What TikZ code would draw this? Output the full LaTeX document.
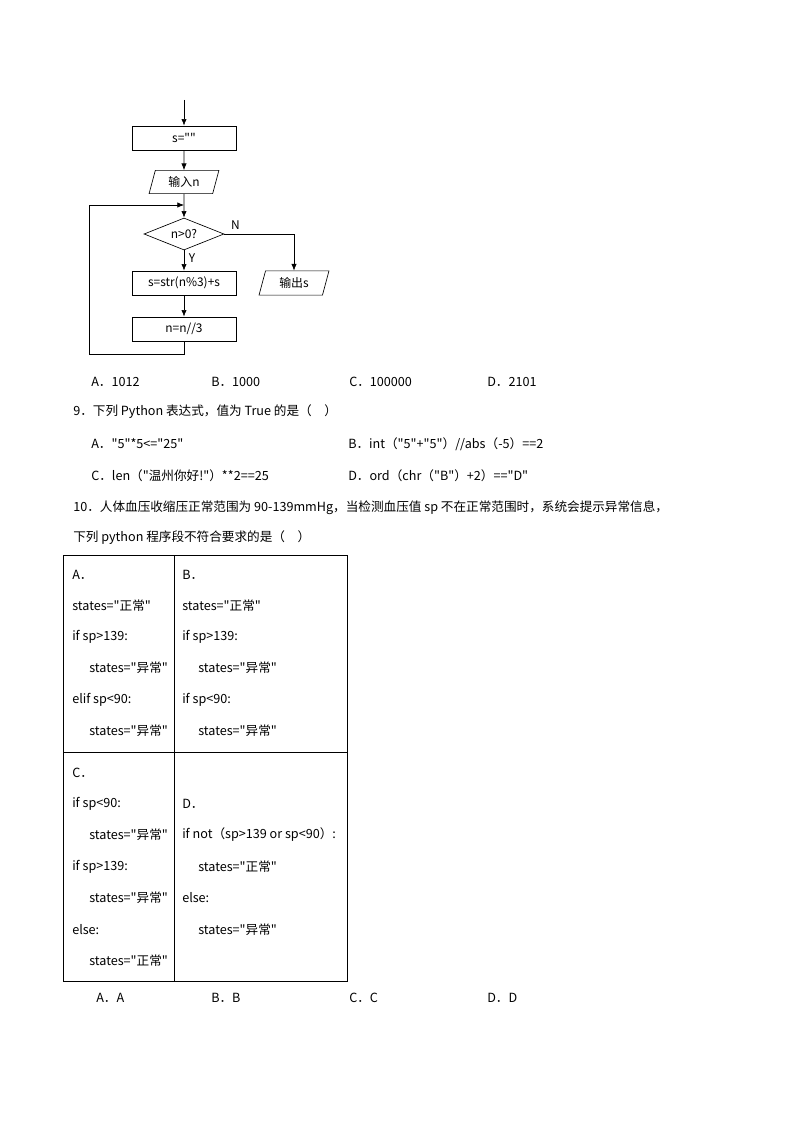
\documentclass[tikz,border=0pt]{standalone}
\usepackage{fontspec}
\setmainfont{Liberation Serif}
\newfontfamily\cjk{Noto Sans CJK SC}
\newfontfamily\chart{Noto Sans CJK SC}
\usetikzlibrary{shapes.geometric,arrows.meta}
\tikzset{
  proc/.style={draw, line width=0.5pt, minimum width=104\unitpx, minimum height=24\unitpx, font=\chart\fontsize{9}{10}\selectfont},
  io/.style={draw, trapezium, trapezium left angle=75, trapezium right angle=105, line width=0.5pt, minimum width=70\unitpx, minimum height=22\unitpx, inner sep=1pt, font=\chart\fontsize{9}{10}\selectfont},
  decide/.style={draw, diamond, aspect=2.5, line width=0.5pt, minimum width=80\unitpx, minimum height=32\unitpx, inner sep=0pt, font=\chart\fontsize{9}{10}\selectfont},
  flow/.style={-{Latex[length=5pt,width=4pt]}, line width=0.5pt},
  txt/.style={anchor=west, inner sep=0pt, font=\cjk\fontsize{9.5}{11}\selectfont},
}
\newcommand{\unitpx}{*0.02646cm}
\begin{document}
\begin{tikzpicture}[x=0.02646cm, y=-0.02646cm]
\useasboundingbox (0,0) rectangle (794,1123);
% flowchart
\coordinate (start) at (184,100);
\node[proc] (init) at (184,138) {s=""};
\node[io] (input) at (184,182) {输入n};
\coordinate (join) at (184,205);
\node[decide] (cond) at (184,234) {n>0?};
\node[proc] (body) at (184,283) {s=str(n\%3)+s};
\node[proc] (step) at (184,329) {n=n//3};
\node[io] (output) at (294,283) {输出s};
\draw[flow] (start) -- (init);
\draw[flow] (init) -- (input);
\draw[flow] (input) -- (cond);
\draw[flow] (cond) -- node[right, font=\chart\fontsize{9}{10}\selectfont, pos=0.4] {Y} (body);
\draw[flow] (body) -- (step);
\draw[flow] (cond.east) -| node[pos=0.08, above, font=\chart\fontsize{9}{10}\selectfont] {N} (output);
\draw[flow] (step.south) -- (184,354) -- (89,354) -- (89,205) -- (join);
% answers 8
\node[txt] (a8) at (91,382) {A．1012};
\node[txt] (b8) at (211,382) {B．1000};
\node[txt] (c8) at (349,382) {C．100000};
\node[txt] (d8) at (487,382) {D．2101};
% question 9
\node[txt] (q9) at (73,412) {9．下列 Python 表达式，值为 True 的是（\quad）};
\node[txt] (a9) at (91,444) {A．"5"*5<="25"};
\node[txt] (b9) at (348,444) {B．int（"5"+"5"）//abs（-5）==2};
\node[txt] (c9) at (91,476) {C．len（"温州你好!"）**2==25};
\node[txt] (d9) at (348,476) {D．ord（chr（"B"）+2）=="D"};
% question 10
\node[txt] (q10) at (73,508) {10．人体血压收缩压正常范围为 90-139mmHg，当检测血压值 sp 不在正常范围时，系统会提示异常信息，};
\node[txt] (q10b) at (73,538) {下列 python 程序段不符合要求的是（\quad）};
% table
\draw[line width=0.5pt] (63,555) rectangle (347,981);
\draw[line width=0.5pt] (174,555) -- (174,981);
\draw[line width=0.5pt] (63,752) -- (347,752);
\node[txt] at (72,575) {A．};
\node[txt] at (72,606) {states="正常"};
\node[txt] at (72,637) {if sp>139:};
\node[txt] at (89,668) {states="异常"};
\node[txt] at (72,700) {elif sp<90:};
\node[txt] at (89,731) {states="异常"};
\node[txt] at (182,575) {B．};
\node[txt] at (182,606) {states="正常"};
\node[txt] at (182,637) {if sp>139:};
\node[txt] at (198,668) {states="异常"};
\node[txt] at (182,700) {if sp<90:};
\node[txt] at (198,731) {states="异常"};
\node[txt] at (72,773) {C．};
\node[txt] at (72,804) {if sp<90:};
\node[txt] at (89,835) {states="异常"};
\node[txt] at (72,867) {if sp>139:};
\node[txt] at (89,898) {states="异常"};
\node[txt] at (72,930) {else:};
\node[txt] at (89,961) {states="正常"};
\node[txt] at (182,804) {D．};
\node[txt] at (182,835) {if not（sp>139 or sp<90）:};
\node[txt] at (198,867) {states="正常"};
\node[txt] at (182,898) {else:};
\node[txt] at (198,930) {states="异常"};
% answers 10
\node[txt] (a10) at (96,998) {A．A};
\node[txt] (b10) at (211,998) {B．B};
\node[txt] (c10) at (349,998) {C．C};
\node[txt] (d10) at (487,998) {D．D};
\end{tikzpicture}
\end{document}
